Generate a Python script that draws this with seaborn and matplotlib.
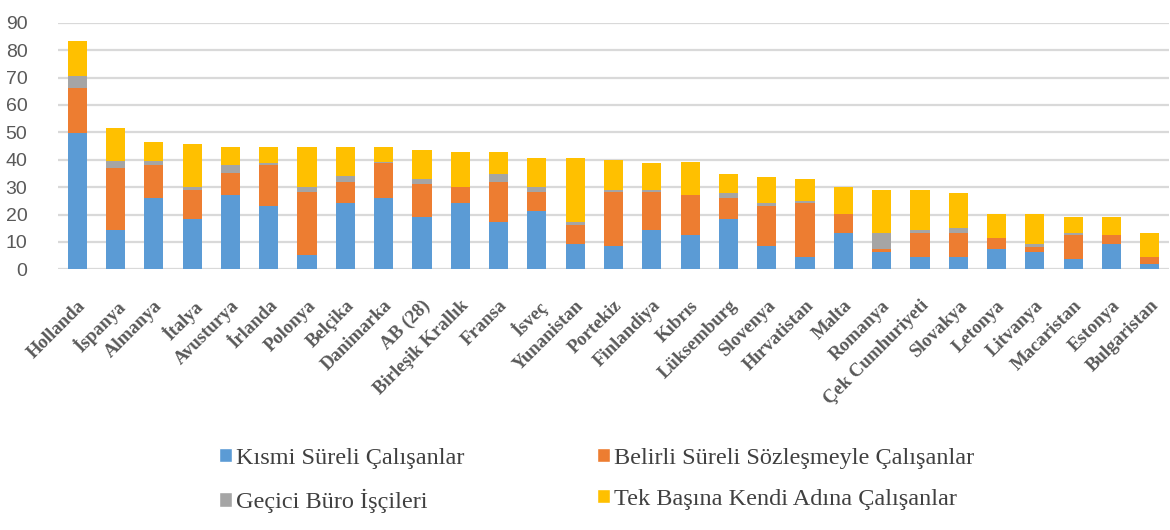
import matplotlib
matplotlib.use("Agg")
import matplotlib.pyplot as plt
import seaborn as sns
import numpy as np
import pandas as pd
from matplotlib.patches import Patch

countries = ["Hollanda", "İspanya", "Almanya", "İtalya", "Avusturya", "İrlanda",
             "Polonya", "Belçika", "Danimarka", "AB (28)", "Birleşik Krallık",
             "Fransa", "İsveç", "Yunanistan", "Portekiz", "Finlandiya", "Kıbrıs",
             "Lüksemburg", "Slovenya", "Hırvatistan", "Malta", "Romanya",
             "Çek Cumhuriyeti", "Slovakya", "Letonya", "Litvanya", "Macaristan",
             "Estonya", "Bulgaristan"]

kismi = [49.6, 14.4, 26.0, 18.2, 27.0, 23.1, 5.4, 24.1, 26.0, 19.2, 24.1,
         17.3, 21.2, 9.4, 8.4, 14.4, 12.4, 18.2, 8.4, 4.5, 13.3, 6.4,
         4.5, 4.5, 7.4, 6.4, 3.8, 9.4, 1.8]
belirli = [16.7, 22.5, 12.0, 10.8, 8.0, 14.9, 22.7, 7.9, 12.8, 11.8, 5.8,
           14.7, 6.9, 6.9, 19.7, 13.7, 14.6, 7.8, 14.7, 19.6, 6.8, 1.1,
           8.8, 8.8, 3.9, 1.9, 8.6, 3.0, 2.7]
gecici = [4.4, 2.6, 1.7, 0.9, 3.0, 0.8, 1.8, 2.1, 0.3, 1.8, 0.2,
          2.8, 1.8, 1.0, 0.9, 0.9, 0.2, 2.0, 1.0, 1.0, 0.0, 5.8,
          1.1, 1.9, 0.1, 1.1, 0.9, 0.0, 0.0]
tek = [12.8, 12.1, 6.9, 15.7, 6.8, 6.0, 14.9, 10.7, 5.7, 10.8, 12.6,
       7.9, 10.9, 23.5, 10.8, 9.8, 11.8, 6.9, 9.7, 7.7, 9.8, 15.7,
       14.6, 12.8, 8.8, 10.7, 5.8, 6.7, 8.8]

series_names = ["Kısmi Süreli Çalışanlar", "Belirli Süreli Sözleşmeyle Çalışanlar",
                "Geçici Büro İşçileri", "Tek Başına Kendi Adına Çalışanlar"]
colors = ["#5B9BD5", "#ED7D31", "#A5A5A5", "#FFC000"]

df = pd.DataFrame({"ulke": countries, "s0": kismi, "s1": belirli,
                   "s2": gecici, "s3": tek})
cum = df[["s0", "s1", "s2", "s3"]].cumsum(axis=1)

sns.set_style("white")
plt.rcParams["font.serif"] = ["Liberation Serif", "DejaVu Serif"]
fig = plt.figure(figsize=(11.7, 5.3), dpi=100)
ax = fig.add_axes([58 / 1170, (530 - 269.3) / 530, (1169 - 58) / 1170, 246.6 / 530])

for i in [3, 2, 1, 0]:
    sns.barplot(x=df["ulke"], y=cum[f"s{i}"], color=colors[i], width=0.5,
                saturation=1, ax=ax, order=countries, zorder=3, linewidth=0)

ax.set_ylim(0, 90)
ax.set_yticks(range(0, 91, 10))
ax.set_xlim(-0.5, len(countries) - 0.5)
ax.yaxis.grid(True, color="#d9d9d9", linewidth=1.6, zorder=0)
ax.set_axisbelow(True)
for s in ax.spines.values():
    s.set_visible(False)
ax.set_xlabel("")
ax.set_ylabel("")
ax.tick_params(axis="y", length=0, pad=22, labelsize=14, labelcolor="#595959")
ax.tick_params(axis="x", length=0, pad=20)
for lab in ax.get_yticklabels():
    lab.set_fontfamily("Liberation Sans")
ax.set_xticks(range(len(countries)))
ax.set_xticklabels(countries, rotation=45, ha="right", rotation_mode="anchor",
                   fontsize=13.5, fontweight="bold", color="#595959",
                   fontfamily="serif")


def make_legend(idx, xpix):
    hs = [Patch(facecolor=colors[i], label=series_names[i]) for i in idx]
    leg = fig.legend(handles=hs, loc="upper left",
                     bbox_to_anchor=(xpix / 1170, 1 - 448 / 530), frameon=False,
                     prop={"family": "serif", "size": 17.5, "weight": "normal"},
                     handlelength=0.52, handleheight=0.52,
                     handletextpad=0.2, labelspacing=0.82, borderpad=0,
                     borderaxespad=0)
    for t in leg.get_texts():
        t.set_color("#404040")
    return leg


make_legend([0, 2], 219)
make_legend([1, 3], 597)

fig.savefig("out.png", dpi=100)
